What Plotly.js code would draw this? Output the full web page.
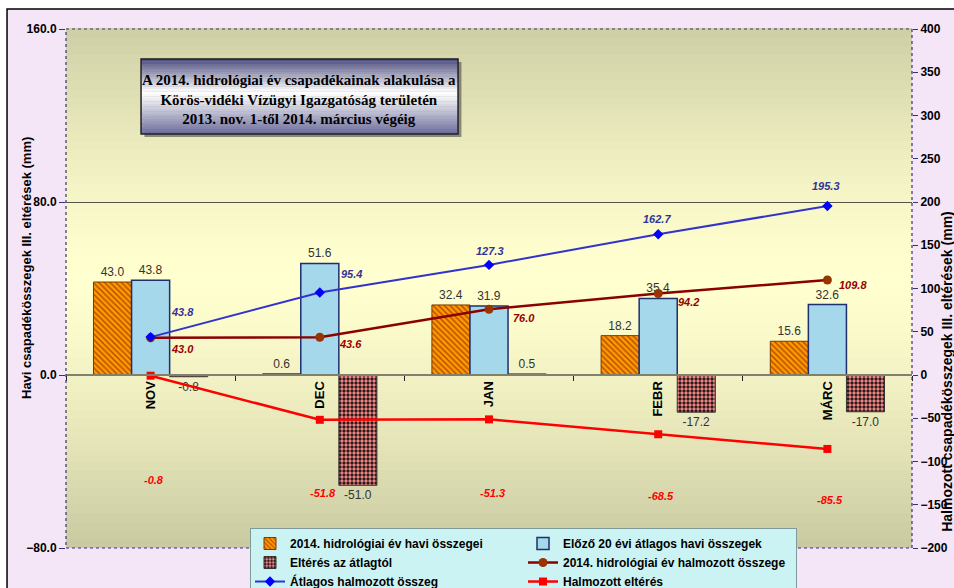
<!DOCTYPE html>
<html>
<head>
<meta charset="utf-8">
<script src="https://cdn.plot.ly/plotly-3.0.1.min.js"></script>
<style>html,body{margin:0;padding:0;background:#fff;}#chart{width:954px;height:588px;}</style>
</head>
<body>
<div id="chart"></div>
<script>
// ---- data ----
const months = ['NOV', 'DEC', 'JAN', 'FEBR', 'MÁRC'];
const monthly2014 = [43.0, 0.6, 32.4, 18.2, 15.6];
const avg20yr = [43.8, 51.6, 31.9, 35.4, 32.6];
const deviation = [-0.8, -51.0, 0.5, -17.2, -17.0];
const cum2014 = [43.0, 43.6, 76.0, 94.2, 109.8];
const cumAvg = [43.8, 95.4, 127.3, 162.7, 195.3];
const cumDeviation = [-0.8, -51.8, -51.3, -68.5, -85.5];

const names = [
  '2014. hidrológiai év havi összegei',
  'Előző 20 évi átlagos havi összegek',
  'Eltérés az átlagtól',
  '2014. hidrológiai év halmozott összege',
  'Átlagos halmozott összeg',
  'Halmozott eltérés'
];
const titleLines = [
  'A 2014. hidrológiai év csapadékainak alakulása a',
  'Körös-vidéki Vízügyi Igazgatóság területén',
  '2013. nov. 1-től 2014. március végéig'
];
const leftTitle = 'Havi csapadékösszegek III. eltérések (mm)';
const rightTitle = 'Halmozott csapadékösszegek III. eltérések (mm)';

// ---- styling helpers ----
const SANS = 'Liberation Sans, Arial, sans-serif';
const SERIF = 'Liberation Serif, Times New Roman, serif';
function hex(c){return [parseInt(c.slice(1,3),16),parseInt(c.slice(3,5),16),parseInt(c.slice(5,7),16)];}
function mix(a,b,t){const A=hex(a),B=hex(b);return 'rgb('+A.map((v,i)=>Math.round(v+(B[i]-v)*t)).join(',')+')';}

const shapes = [];
// outer frame
shapes.push({type:'rect', xref:'paper', yref:'paper', x0:-0.0697, x1:1.06, y0:-0.12, y1:1.0385,
  fillcolor:'#f4e6f6', line:{color:'#000', width:1.5}, layer:'below'});
// plot area gradient
const NB = 60;
for (let i = 0; i < NB; i++) {
  const p = (i + 0.5) / NB;
  const t = Math.pow(Math.abs(p - 0.52) / 0.52, 1.4);
  shapes.push({type:'rect', xref:'paper', yref:'paper', x0:0, x1:1, y0:i/NB, y1:(i+1)/NB + 0.002,
    fillcolor: mix('#ffffcf', '#c9c9a1', Math.min(1,t)), line:{width:0}, layer:'below'});
}
// title box shadow + gradient
const bx0 = 0.0887, bx1 = 0.4634, by0 = 0.7977, by1 = 0.9422;
shapes.push({type:'rect', xref:'paper', yref:'paper', x0:bx0+0.004, x1:bx1+0.004, y0:by0-0.006, y1:by1-0.006,
  fillcolor:'rgba(60,60,60,0.55)', line:{width:0}, layer:'below'});
const TB = 30;
for (let i = 0; i < TB; i++) {
  const p = (i + 0.5) / TB; // 0 bottom -> 1 top
  const t = p > 0.55 ? (p - 0.55) / 0.45 : (0.55 - p) / 0.55;
  shapes.push({type:'rect', xref:'paper', yref:'paper', x0:bx0, x1:bx1,
    y0: by0 + (by1-by0)*i/TB, y1: by0 + (by1-by0)*(i+1)/TB + 0.0005,
    fillcolor: mix('#ffffff', p > 0.55 ? '#4a4a7e' : '#6a6a9c', Math.pow(t, 1.1)), line:{width:0}, layer:'below'});
}
shapes.push({type:'rect', xref:'paper', yref:'paper', x0:bx0, x1:bx1, y0:by0, y1:by1,
  fillcolor:'rgba(0,0,0,0)', line:{color:'#222', width:1.5}, layer:'below'});
// plot border (dotted)
shapes.push({type:'rect', xref:'paper', yref:'paper', x0:0, x1:1, y0:0, y1:1,
  fillcolor:'rgba(0,0,0,0)', line:{color:'#33337a', width:1.2, dash:'dot'}, layer:'above'});

const traces = [
  {type:'bar', name:names[0], x:months, y:monthly2014, yaxis:'y', legendgroup:'g1',
   marker:{color:'#ff9900', line:{color:'#7a3a00', width:1},
     pattern:{shape:'\\', fgcolor:'#b04a00', bgcolor:'#ff9900', size:4, solidity:0.35}},
   text:monthly2014.map(v=>v.toFixed(1)), textposition:'outside', cliponaxis:false, constraintext:'none',
   textfont:{family:SANS, size:12, color:'#333'}},
  {type:'bar', name:names[1], x:months, y:avg20yr, yaxis:'y', legendgroup:'g2',
   marker:{color:'#a6d8ec', line:{color:'#1f2f6e', width:1.5}},
   text:avg20yr.map(v=>v.toFixed(1)), textposition:'outside', cliponaxis:false, constraintext:'none',
   textfont:{family:SANS, size:12, color:'#333'}},
  {type:'bar', name:names[2], x:months, y:deviation, yaxis:'y', legendgroup:'g1',
   marker:{color:'#ff8c8c', line:{color:'#333', width:1},
     pattern:{shape:'.', fgcolor:'#2a1a1a', bgcolor:'#ff8c8c', size:4, solidity:0.55}},
   text:deviation.map(v=>v.toFixed(1)), textposition:'outside', cliponaxis:false, constraintext:'none',
   textfont:{family:SANS, size:12, color:'#333'}},
  {type:'scatter', mode:'lines+markers', name:names[3], x:months, y:cum2014, yaxis:'y2', legendgroup:'g2',
   line:{color:'#8b0000', width:2.5}, marker:{symbol:'circle', size:9, color:'#993300'}, cliponaxis:false},
  {type:'scatter', mode:'lines+markers', name:names[4], x:months, y:cumAvg, yaxis:'y2', legendgroup:'g1',
   line:{color:'#3333cc', width:2}, marker:{symbol:'diamond', size:8, color:'#0000ff'}, cliponaxis:false},
  {type:'scatter', mode:'lines+markers', name:names[5], x:months, y:cumDeviation, yaxis:'y2', legendgroup:'g2',
   line:{color:'#ff0000', width:2.5}, marker:{symbol:'square', size:8, color:'#ff0000'}, cliponaxis:false}
];

// data labels of the cumulative lines (label offsets in px, as placed in the source chart)
function lineLabels(vals, color, dx, dy) {
  return vals.map((v, i) => ({
    x: months[i], y: v, xref:'x', yref:'y2', text: v.toFixed(1), showarrow:false,
    xshift: dx[i], yshift: dy[i],
    font:{family:SANS, size:11, color:color, weight:'bold', style:'italic'}
  }));
}
const annotations = [].concat(
  lineLabels(cumAvg, '#333399', [32, 32, 1, -1, -1], [25, 18, 14, 15, 20]),
  lineLabels(cum2014, '#990000', [32, 31, 35, 30, 26], [-11, -7, -9, -8, -5]),
  lineLabels(cumDeviation, '#ff0000', [3, 3, 3, 3, 3], [-104, -73, -74, -62, -51])
);
annotations.push({
  xref:'paper', yref:'paper', x:0.276, y:0.8632, xanchor:'center', yanchor:'middle', showarrow:false,
  text: titleLines.map(s => '<b>' + s + '</b>').join('<br>'),
  font:{family:SERIF, size:15, color:'#000'}
});
// axis titles
annotations.push({
  xref:'paper', yref:'paper', x:-0.0461, y:0.5395, xanchor:'center', yanchor:'middle', showarrow:false,
  textangle:-90, text:'<b>' + leftTitle + '</b>', font:{family:SANS, size:13, color:'#000'}
});
annotations.push({
  xref:'paper', yref:'paper', x:1.0405, y:0.34, xanchor:'center', yanchor:'middle', showarrow:false,
  textangle:-90, text:'<b>' + rightTitle + '</b>', font:{family:SANS, size:14, color:'#000'}
});

const layout = {
  width:954, height:588,
  margin:{l:66, r:42, t:29, b:40, pad:0, autoexpand:false},
  paper_bgcolor:'#ffffff', plot_bgcolor:'rgba(0,0,0,0)',
  barmode:'group', bargap:0.325, bargroupgap:0,
  showlegend:true,
  xaxis:{type:'category', anchor:'free', position:1/3, range:[-0.5, 4.5], automargin:false,
    showline:true, linecolor:'#80806c', linewidth:2,
    ticks:'outside', ticklen:5, tickcolor:'#222', tickson:'boundaries',
    tickangle:-90, tickfont:{family:SANS, size:13, color:'#000', weight:'bold'},
    showgrid:false, zeroline:false, fixedrange:true},
  yaxis:{range:[-80, 160], dtick:80, tick0:0, tickformat:'.1f', automargin:false,
    ticks:'outside', ticklen:6, tickcolor:'#33337a',
    showgrid:true, gridcolor:'#55554a', gridwidth:1,
    zeroline:false, showline:false,
    tickfont:{family:SANS, size:12, color:'#000', weight:'bold'}},
  yaxis2:{range:[-200, 400], dtick:50, tick0:0, overlaying:'y', side:'right', anchor:'x', automargin:false,
    ticks:'outside', ticklen:5, tickcolor:'#33337a',
    showgrid:false, zeroline:false, showline:false,
    tickfont:{family:SANS, size:12, color:'#000', weight:'bold'}},
  legend:{orientation:'h', traceorder:'grouped', x:0.2175, y:0.0385, xanchor:'left', yanchor:'top',
    bgcolor:'#ccf3f3', bordercolor:'#7f9a9a', borderwidth:1, entrywidth:228, tracegroupgap:0,
    font:{family:SANS, size:12, color:'#000', weight:'bold'}},
  shapes: shapes,
  annotations: annotations
};

Plotly.newPlot('chart', traces, layout, {displayModeBar:false, staticPlot:true});
</script>
</body>
</html>
